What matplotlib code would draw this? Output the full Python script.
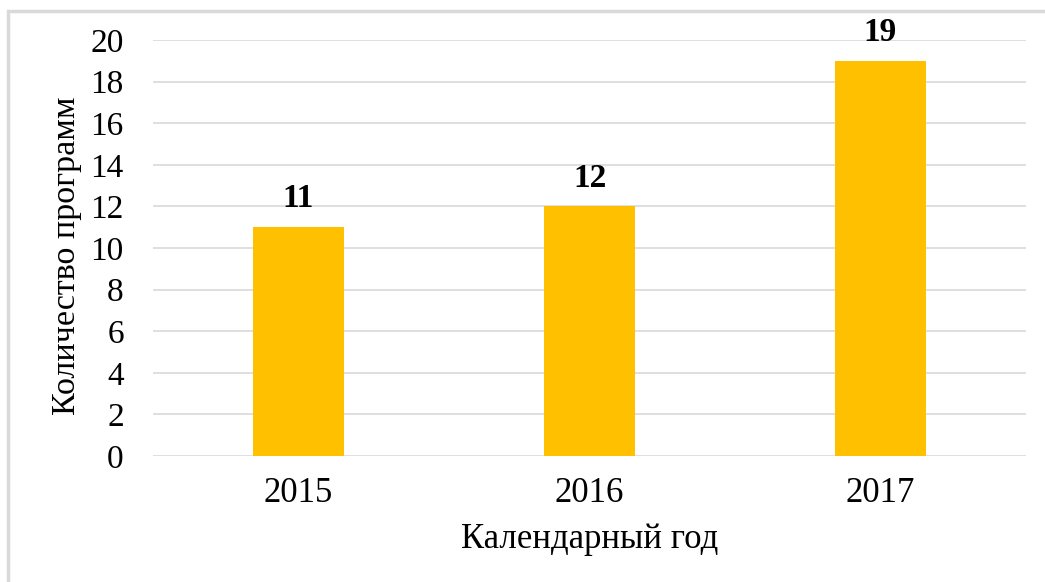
import matplotlib.pyplot as plt
from matplotlib.patches import Rectangle

# данные
years = ["2015", "2016", "2017"]
counts = [11, 12, 19]

plt.rcParams['font.family'] = ['Liberation Serif', 'DejaVu Serif']

W, H = 1045, 582
fig = plt.figure(figsize=(W / 100, H / 100), dpi=100)
ax = fig.add_axes([153 / W, 1 - 456 / H, 873 / W, 416 / H])

# рамка вокруг диаграммы (видна только слева и сверху)
fig.patches.append(Rectangle((8 / W, -0.1), 1.2, 1 - 11 / H + 0.1,
                             transform=fig.transFigure, fill=False,
                             edgecolor="#d9d9d9", linewidth=2.5))

x = range(len(years))
bars = ax.bar(x, counts, width=0.316, color="#FFC000", zorder=3)
for b, v in zip(bars, counts):
    ax.text(b.get_x() + b.get_width() / 2, v + 0.95, str(v), ha="center", va="baseline",
            fontsize=24, fontweight="bold")

ax.set_xlim(-0.5, 2.5)
ax.set_ylim(0, 20)
ax.set_yticks(range(0, 21, 2))
ax.set_xticks(list(x))
ax.set_xticklabels(years)
ax.grid(axis="y", color="#d9d9d9", linewidth=1.2, zorder=0)
for s in ax.spines.values():
    s.set_visible(False)
ax.tick_params(axis="both", length=0)
ax.tick_params(axis="y", labelsize=24, pad=21)
ax.tick_params(axis="x", labelsize=25, pad=15)

ax.set_xlabel("Календарный год", fontsize=25, va="baseline")
ax.xaxis.set_label_coords(0.5, (456 - 548) / 416)
ax.set_ylabel("Количество программ", fontsize=24.5, va="center")
ax.yaxis.set_label_coords((67 - 153) / 873, (456 - 256) / 416)

fig.savefig("out.png", dpi=100)
